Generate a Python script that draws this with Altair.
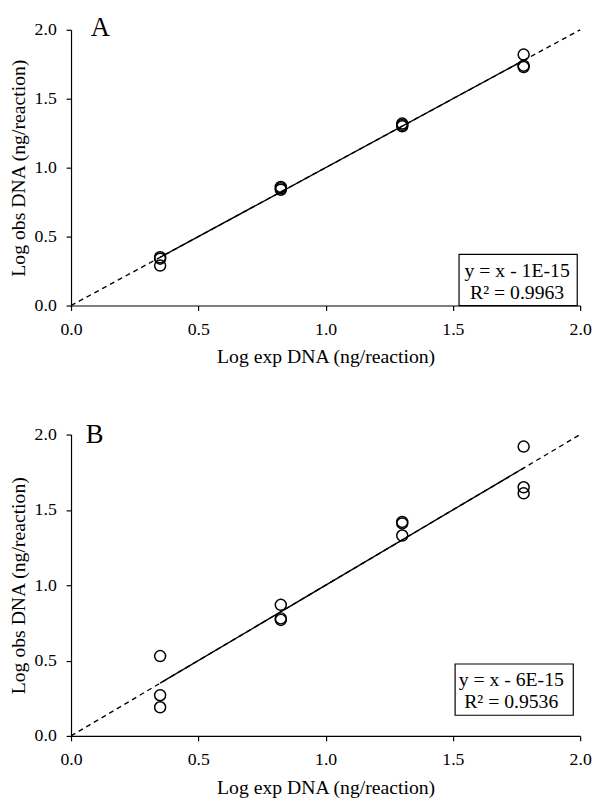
import altair as alt
import pandas as pd

# ---- data ----
x_levels = [0.35, 0.824, 1.301, 1.778]

a_x = [0.35, 0.35, 0.35, 0.824, 0.824, 0.824, 1.301, 1.301, 1.301, 1.778, 1.778, 1.778]
a_y = [0.35, 0.34, 0.29, 0.86, 0.85, 0.84, 1.32, 1.31, 1.30, 1.82, 1.74, 1.73]

b_x = [0.35, 0.35, 0.35, 0.824, 0.824, 0.824, 1.301, 1.301, 1.301, 1.778, 1.778, 1.778]
b_y = [0.53, 0.27, 0.19, 0.87, 0.78, 0.77, 1.42, 1.41, 1.33, 1.92, 1.65, 1.61]

fit_slope = [1.0, 1.0]
fit_intercept = [-1e-15, -6e-15]
extended_x = [0.0, 2.0]
equations = [["y = x - 1E-15", "R\u00b2 = 0.9963"], ["y = x - 6E-15", "R\u00b2 = 0.9536"]]
panel_letters = ["A", "B"]

axis_ticks = [0.0, 0.5, 1.0, 1.5, 2.0]
x_title = "Log exp DNA (ng/reaction)"
y_title = "Log obs DNA (ng/reaction)"

FONT = "Liberation Serif"
W = 517


def panel(xs, ys, slope, intercept, eq, letter, height, box, txt, letter_pos):
    pts = pd.DataFrame({"x": xs, "y": ys})
    ext = pd.DataFrame({"x": extended_x, "y": [slope * v + intercept for v in extended_x]})
    solid_x = [min(xs), max(xs)]
    sol = pd.DataFrame({"x": solid_x, "y": [slope * v + intercept for v in solid_x]})

    xsc = alt.Scale(domain=[0, 2], nice=False)
    ysc = alt.Scale(domain=[0, 2], nice=False)
    xax = alt.Axis(values=axis_ticks, format=".1f", title=x_title, tickSize=5,
                   labelPadding=10, titlePadding=9, labelFlush=False)
    yax = alt.Axis(values=axis_ticks, format=".1f", title=y_title, tickSize=5,
                   labelPadding=10, titlePadding=6, labelFlush=False)

    dashed = alt.Chart(ext).mark_line(color="black", strokeDash=[5, 4], strokeWidth=1.4).encode(
        x=alt.X("x:Q", scale=xsc, axis=xax), y=alt.Y("y:Q", scale=ysc, axis=yax))
    solid = alt.Chart(sol).mark_line(color="black", strokeWidth=1.4).encode(
        x=alt.X("x:Q", scale=xsc), y=alt.Y("y:Q", scale=ysc))
    points = alt.Chart(pts).mark_point(shape="circle", filled=False, color="black",
                                       size=125, strokeWidth=1.5, opacity=1).encode(
        x=alt.X("x:Q", scale=xsc), y=alt.Y("y:Q", scale=ysc))

    bx = alt.Chart(pd.DataFrame({"k": [0]})).mark_rect(fill="white", stroke="black",
                                                      strokeWidth=1.2).encode(
        x=alt.value(box[0]), x2=alt.value(box[1]), y=alt.value(box[2]), y2=alt.value(box[3]))
    t1 = alt.Chart(pd.DataFrame({"t": [eq[0]]})).mark_text(
        font=FONT, fontSize=20, color="black", align="center", baseline="middle").encode(
        text="t:N", x=alt.value(txt[0]), y=alt.value(txt[1]))
    t2 = alt.Chart(pd.DataFrame({"t": [eq[1]]})).mark_text(
        font=FONT, fontSize=20, color="black", align="center", baseline="middle").encode(
        text="t:N", x=alt.value(txt[0]), y=alt.value(txt[2]))
    lt = alt.Chart(pd.DataFrame({"t": [letter]})).mark_text(
        font=FONT, fontSize=27, color="black", align="left", baseline="alphabetic").encode(
        text="t:N", x=alt.value(letter_pos[0]), y=alt.value(letter_pos[1]))

    return alt.layer(dashed, solid, points, bx, t1, t2, lt).properties(width=W, height=height)


pa = panel(a_x, a_y, fit_slope[0], fit_intercept[0], equations[0], panel_letters[0], 280,
           (394, 514, 228, 280), (453, 245, 267), (20, 6))
pb = panel(b_x, b_y, fit_slope[1], fit_intercept[1], equations[1], panel_letters[1], 306,
           (390, 510, 233, 285), (447, 249, 272), (15, 9))

chart = alt.vconcat(pa, pb, spacing=56).properties(padding=0).configure_view(
    stroke=None
).configure_axis(
    labelFont=FONT, titleFont=FONT, labelFontSize=18, titleFontSize=20,
    titleFontWeight="normal", labelColor="black", titleColor="black",
    domainColor="black", tickColor="black", grid=False, domainWidth=1.2, tickWidth=1.2
)

chart.save("out.html", embed_options={"renderer": "svg", "actions": False})
